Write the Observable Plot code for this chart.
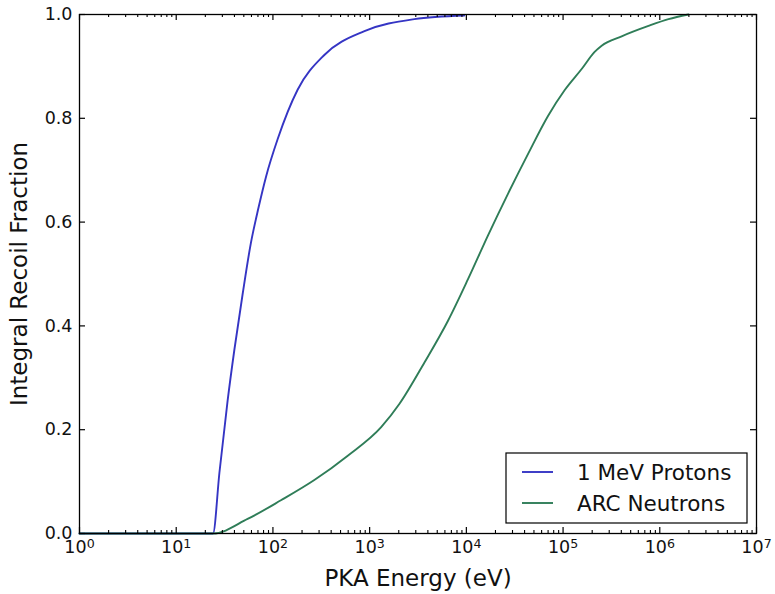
<!DOCTYPE html>
<html>
<head>
<meta charset="utf-8">
<script src="https://cdn.jsdelivr.net/npm/d3@7"></script>
<script src="https://cdn.jsdelivr.net/npm/@observablehq/plot@0.6"></script>
<style>
  html, body { margin: 0; padding: 0; background: #fff; }
  #chart { position: relative; width: 775px; height: 594px; }
  svg { font-family: "DejaVu Sans", sans-serif; }
</style>
</head>
<body>
<div id="chart"></div>
<script>
// ---- Data ----
const protonEnergy = [1, 10, 24, 28, 34, 40, 48.5, 59.2, 71, 85, 112, 180, 340, 884, 2900, 9500];
const protonFrac   = [0, 0, 0, 0.118, 0.256, 0.355, 0.460, 0.560, 0.628, 0.688, 0.760, 0.855, 0.922, 0.968, 0.991, 0.998];

const neutronEnergy = [1, 10, 24, 54.7, 121, 268, 594, 1316, 2036, 3700, 6460, 10400, 16800, 27000, 43600, 70100, 104500, 155600, 212000, 250600, 403600, 763800, 1230000, 1980000];
const neutronFrac   = [0, 0, 0, 0.028, 0.064, 0.103, 0.150, 0.205, 0.250, 0.330, 0.410, 0.490, 0.575, 0.655, 0.732, 0.805, 0.855, 0.895, 0.928, 0.940, 0.958, 0.978, 0.991, 1.0];

const seriesNames = ["1 MeV Protons", "ARC Neutrons"];
const seriesColors = ["#3535c4", "#2f7d58"];

const xMajorTicks = [1, 10, 100, 1000, 1e4, 1e5, 1e6, 1e7];
const xMinorTicks = [];
for (let k = 0; k < 7; k++) for (let m = 2; m <= 9; m++) xMinorTicks.push(m * Math.pow(10, k));
const yTicks = [0, 0.2, 0.4, 0.6, 0.8, 1.0];

const fmtPow = d => "10^" + Math.round(Math.log10(d));

const rows = [
  ...protonEnergy.map((e, i) => ({series: seriesNames[0], energy: e, frac: protonFrac[i]})),
  ...neutronEnergy.map((e, i) => ({series: seriesNames[1], energy: e, frac: neutronFrac[i]}))
];

// inward tick lengths in data units (frame ~519 px tall, ~96.5 px per decade)
const yMaj = 6 / 519, yMin = 3 / 519, xFac = Math.pow(10, 6 / 96.5);

const chart = Plot.plot({
  width: 775,
  height: 594,
  marginLeft: 79,
  marginRight: 19,
  marginTop: 14,
  marginBottom: 61,
  style: {fontFamily: "DejaVu Sans, sans-serif", color: "#111", background: "#fff"},
  x: {type: "log", domain: [1, 1e7]},
  y: {domain: [0, 1]},
  color: {domain: seriesNames, range: seriesColors},
  marks: [
    Plot.line(rows, {x: "energy", y: "frac", z: "series", stroke: "series", strokeWidth: 1.9, curve: "monotone-x"}),
    // inward ticks on four sides
    Plot.ruleX(xMajorTicks, {x: d => d, y1: 0, y2: yMaj, stroke: "#000", strokeWidth: 1.2}),
    Plot.ruleX(xMajorTicks, {x: d => d, y1: 1 - yMaj, y2: 1, stroke: "#000", strokeWidth: 1.2}),
    Plot.ruleX(xMinorTicks, {x: d => d, y1: 0, y2: yMin, stroke: "#000", strokeWidth: 1.1}),
    Plot.ruleX(xMinorTicks, {x: d => d, y1: 1 - yMin, y2: 1, stroke: "#000", strokeWidth: 1.1}),
    Plot.ruleY(yTicks, {y: d => d, x1: 1, x2: xFac, stroke: "#000", strokeWidth: 1.2}),
    Plot.ruleY(yTicks, {y: d => d, x1: 1e7 / xFac, x2: 1e7, stroke: "#000", strokeWidth: 1.2}),
    Plot.frame({stroke: "#000", strokeWidth: 1.3}),
    Plot.axisX({anchor: "bottom", ticks: xMajorTicks, tickSize: 0, tickPadding: 7, tickFormat: fmtPow, fontSize: 17.5,
      label: "PKA Energy (eV)", labelAnchor: "center", labelArrow: "none", labelOffset: 52}),
    Plot.axisY({anchor: "left", ticks: yTicks, tickSize: 0, tickPadding: 7, tickFormat: d3.format(".1f"), fontSize: 17.5,
      label: "Integral Recoil Fraction", labelAnchor: "center", labelArrow: "none", labelOffset: 69})
  ]
});

document.getElementById("chart").appendChild(chart);

const svg = d3.select(chart);
// superscript exponents on x tick labels
svg.selectAll('g[aria-label="x-axis tick label"] text').each(function() {
  const s = d3.select(this);
  const parts = s.text().split("^");
  if (parts.length === 2) {
    s.text(parts[0]);
    s.append("tspan").attr("dy", "-0.42em").attr("font-size", "72%").text(parts[1]);
  }
});
// larger axis titles
svg.selectAll('g[aria-label="x-axis label"] text, g[aria-label="y-axis label"] text').style("font-size", "23px");

// legend (inside plot, lower right)
const lg = svg.append("g").attr("font-family", "DejaVu Sans, sans-serif").attr("font-size", "21.5px").attr("text-anchor", "start");
lg.append("rect").attr("x", 506).attr("y", 453).attr("width", 241).attr("height", 70)
  .attr("fill", "#fff").attr("stroke", "#000").attr("stroke-width", 1.2);
seriesNames.forEach((name, i) => {
  const y = 472 + i * 31;
  lg.append("line").attr("x1", 522).attr("x2", 553).attr("y1", y).attr("y2", y)
    .attr("stroke", seriesColors[i]).attr("stroke-width", 1.9);
  lg.append("text").attr("x", 577).attr("y", y + 7.5).attr("fill", "#111").text(name);
});
</script>
</body>
</html>
